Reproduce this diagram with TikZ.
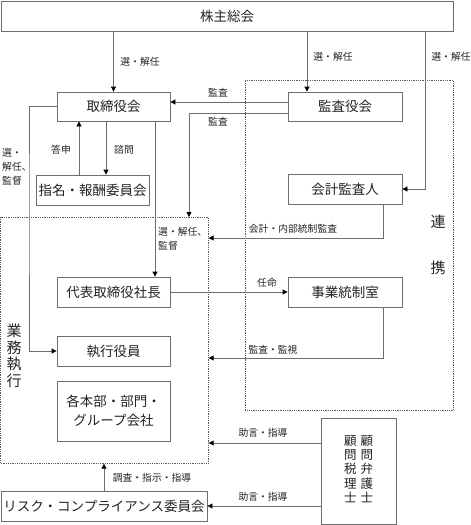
\documentclass[tikz,border=0pt]{standalone}
\usepackage{fontspec}
\setmainfont{Noto Sans CJK JP}
\usetikzlibrary{arrows.meta}
\definecolor{linegray}{RGB}{110,110,110}
\definecolor{dotgray}{RGB}{90,90,90}
\definecolor{txt}{RGB}{35,35,35}
\begin{document}
\begin{tikzpicture}[x=1pt,y=-1pt,
  box/.style={draw=linegray, line width=0.8pt, fill=white, inner sep=0pt, text=txt,
              font=\fontsize{13.5}{19}\selectfont, align=center},
  conn/.style={draw=linegray, line width=0.8pt},
  arr/.style={conn, -{Triangle[length=5pt,width=5pt,color=black]}},
  lbl/.style={font=\fontsize{9.8}{14}\selectfont, inner sep=0pt, text=txt},
  big/.style={font=\fontsize{15}{16.5}\selectfont, inner sep=0pt, text=txt, align=center},
  dotbox/.style={draw=dotgray, line width=0.7pt, dash pattern=on 0.9pt off 0.9pt, inner sep=0pt}]
\useasboundingbox (0,0) rectangle (471,525);

% dotted regions
\node[dotbox, minimum width=208pt, minimum height=330pt, anchor=north west] (renkei) at (245,80) {};
\node[dotbox, minimum width=207.5pt, minimum height=246pt, anchor=north west] (gyomu) at (0.5,217) {};

% boxes
\node[box, minimum width=452pt, minimum height=30pt] (top) at (227,16) {株主総会};
\node[box, minimum width=113pt, minimum height=29pt] (tori) at (113.5,106.5) {取締役会};
\node[box, minimum width=114pt, minimum height=29pt] (kansa) at (345,106.5) {監査役会};
\node[box, minimum width=113pt, minimum height=30pt] (shimei) at (92.5,190) {指名・報酬委員会};
\node[box, minimum width=114pt, minimum height=30pt] (kaikei) at (345,189) {会計監査人};
\node[box, minimum width=113pt, minimum height=30pt] (daihyo) at (113.5,292) {代表取締役社長};
\node[box, minimum width=114pt, minimum height=30pt] (jigyo) at (345,292) {事業統制室};
\node[box, minimum width=113pt, minimum height=30pt] (shikko) at (113.5,351) {執行役員};
\node[box, minimum width=113pt, minimum height=60pt] (honbu) at (113.5,411) {各本部・部門・\\グループ会社};
\node[box, minimum width=75pt, minimum height=106pt, font=\fontsize{12.5}{13}\selectfont] (komon) at (358.5,471)
  {\begin{tabular}{@{}c@{\hspace{4pt}}c@{}}顧&顧\\問&問\\税&弁\\理&護\\士&士\end{tabular}};
\node[box, minimum width=206pt, minimum height=30pt] (risk) at (104,506) {リスク・コンプライアンス委員会};

% helper coordinates
\coordinate (xk) at (307,0);
\coordinate (xr) at (425,0);
\coordinate (xl) at (29,200);
\coordinate (xa) at (79,0);
\coordinate (xb) at (106,0);
\coordinate (xc) at (155,0);
\coordinate (ka2) at (189,217);
\coordinate (kk) at (383,238);
\coordinate (jk) at (383,358);
\coordinate (ad) at (0,443);

% connectors
\draw[arr] (top.south -| tori.north) -- (tori.north);
\draw[arr] (top.south -| xk) -- (kansa.north -| xk);
\draw[arr] (top.south -| xr) |- (kaikei.east);
\draw[arr] ([yshift=4.5pt]kansa.west) -- ([yshift=4.5pt]tori.east);
\draw[arr] ([yshift=-6.5pt]kansa.west) -| (ka2);
\draw[arr] (tori.west) -| (xl) |- (shikko.west);
\draw[arr] (shimei.north -| xa) -- (tori.south -| xa);
\draw[arr] (tori.south -| xb) -- (shimei.north -| xb);
\draw[arr] (tori.south -| xc) -- (daihyo.north -| xc);
\draw[arr] (kaikei.south -| kk) |- (gyomu.east |- kk);
\draw[arr] (daihyo.east) -- (jigyo.west);
\draw[arr] (jigyo.south -| jk) |- (gyomu.east |- jk);
\draw[arr] (komon.west |- ad) -- (gyomu.east |- ad);
\draw[arr] (komon.west |- risk.east) -- (risk.east);
\draw[arr] (risk.north) -- (risk.north |- gyomu.south);

% labels
\node[lbl] (l1) at (140,62) {選・解任};
\node[lbl] (l2) at (333,57) {選・解任};
\node[lbl] (l3) at (451,57) {選・解任};
\node[lbl] (l4) at (218,93) {監査};
\node[lbl] (l5) at (218,122) {監査};
\node[lbl] (l6) at (61,150) {答申};
\node[lbl] (l7) at (124,150) {諮問};
\node[lbl, anchor=north west, align=left] (l8) at (158,227) {選・解任、\\監督};
\node[lbl, anchor=north west, align=left] (l9) at (2,148) {選・\\解任、\\監督};
\node[lbl] (l10) at (293,229) {会計・内部統制監査};
\node[lbl] (l11) at (267,283) {任命};
\node[lbl] (l12) at (273,350) {監査・監視};
\node[lbl] (l13) at (263,433) {助言・指導};
\node[lbl] (l14) at (263,497) {助言・指導};
\node[lbl] (l15) at (152,478) {調査・指示・指導};

\node[big] (ren) at (438,222) {連};
\node[big] (kei) at (438,268) {携};
\node[big] (gy) at (14,356) {業\\務\\執\\行};
\end{tikzpicture}
\end{document}
